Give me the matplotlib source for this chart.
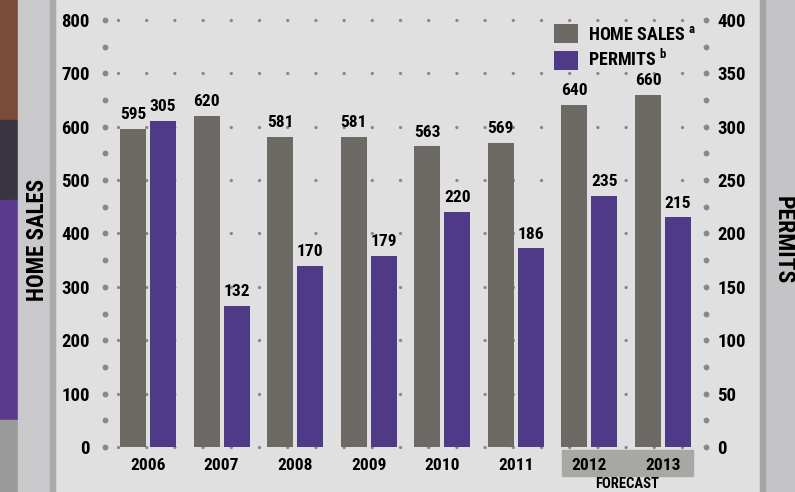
import matplotlib
matplotlib.use("Agg")
import matplotlib.pyplot as plt
from matplotlib.patches import Rectangle
from matplotlib import font_manager
import numpy as np

years = ["2006", "2007", "2008", "2009", "2010", "2011", "2012", "2013"]
home_sales = [595, 620, 581, 581, 563, 569, 640, 660]
permits = [305, 132, 170, 179, 220, 186, 235, 215]
left_ticks = [0, 100, 200, 300, 400, 500, 600, 700, 800]
right_ticks = [0, 50, 100, 150, 200, 250, 300, 350, 400]

GRAY = "#6d6a65"
PURPLE = "#4e3a86"
BG = "#e0e0e1"
DOT = "#88888a"

names = {f.name for f in font_manager.fontManager.ttflist}
FAM = "DejaVu Sans"
for cand in ["Roboto Condensed", "Open Sans Condensed", "Liberation Sans Narrow", "Roboto"]:
    if cand in names:
        FAM = cand
        break
FONT = dict(family=FAM, weight="bold")

W, H = 795, 492
fig = plt.figure(figsize=(W / 100, H / 100), dpi=100)
fig.patch.set_facecolor(BG)

def fr(x0, y0, x1, y1, color, z=-1):
    fig.patches.append(Rectangle((x0 / W, 1 - y1 / H), (x1 - x0) / W, (y1 - y0) / H,
                                 transform=fig.transFigure, color=color, zorder=z))

# decorative edge strips
fr(0, 0, 18, 120, "#7a4a3a")
fr(0, 120, 18, 200, "#3a3440")
fr(0, 200, 18, 420, "#5b3a8c")
fr(0, 420, 18, 492, "#9a9a9a")
fr(18, 0, 55, 492, "#c9c9cb")
fr(50, 0, 55, 492, "#a9a9ab")
fr(760, 0, 795, 492, "#c4c4c6")
fr(760, 0, 765, 492, "#a4a4a6")
# forecast band
fr(562, 450, 693, 476, "#a9a7a4")

ax_left, ax_right = 105, 706
ax_top, ax_bot = 20, 447
ax = fig.add_axes([ax_left / W, 1 - ax_bot / H, (ax_right - ax_left) / W, (ax_bot - ax_top) / H])
ax.set_facecolor("none")
ax2 = ax.twinx()
ax2.set_facecolor("none")

xmin, xmax = -0.584, 7.584
ax.set_xlim(xmin, xmax)
ax.set_ylim(0, 800)
ax2.set_ylim(0, 400)

x = np.arange(len(years))
bw = 0.353
off = 0.204

# dotted gridlines
px_per_x = (ax_right - ax_left) / (xmax - xmin)
g0 = xmin + (118 - ax_left) / px_per_x
g1 = xmin + (700 - ax_left) / px_per_x
for v in left_ticks:
    ax.plot([g0, g1], [v, v], color=DOT, lw=2.4, dashes=(0.01, 8.45),
            dash_capstyle="round", zorder=1, clip_on=False, scalex=False, scaley=False)
for v in range(0, 801, 50):
    ax.plot([xmin], [v], "o", color=DOT, ms=4.2, mew=0, clip_on=False, zorder=1)
    ax.plot([xmax], [v], "o", color=DOT, ms=4.2, mew=0, clip_on=False, zorder=1)

b1 = ax.bar(x - off, home_sales, bw, color=GRAY, zorder=3)
b2 = ax2.bar(x + off, permits, bw, color=PURPLE, zorder=3)

for xi, v in zip(x, home_sales):
    ax.text(xi - off, v + 13, str(v), ha="center", va="bottom", fontsize=12.5, **FONT)
for xi, v in zip(x, permits):
    ax2.text(xi + off, v + 6.5, str(v), ha="center", va="bottom", fontsize=12.5, **FONT)

for a in (ax, ax2):
    for s in a.spines.values():
        s.set_visible(False)

ax.set_xticks(x)
ax.set_xticklabels(years)
ax.set_yticks(left_ticks)
ax2.set_yticks(right_ticks)
ax.tick_params(axis="both", length=0)
ax2.tick_params(axis="both", length=0)
ax.tick_params(axis="x", pad=8)
ax.tick_params(axis="y", pad=11)
ax2.tick_params(axis="y", pad=8)
for lab in ax.get_xticklabels() + ax.get_yticklabels() + ax2.get_yticklabels():
    lab.set_fontfamily(FAM)
    lab.set_fontweight("bold")
    lab.set_fontsize(13.5)
for lab in ax.get_xticklabels():
    lab.set_fontsize(12.5)

fig.text(627 / W, 1 - 484 / H, "FORECAST", ha="center", va="center", fontsize=10.5, **FONT)
fig.text(37 / W, 1 - 240 / H, "HOME SALES", rotation=90, ha="center", va="center",
         fontsize=16.5, **FONT)
fig.text(783 / W, 1 - 240 / H, "PERMITS", rotation=-90, ha="center", va="center",
         fontsize=17, **FONT)

leg = ax.legend([b1, b2], ["HOME SALES $^{\\mathregular{a}}$", "PERMITS $^{\\mathregular{b}}$"],
                loc="upper left",
                bbox_to_anchor=((554 - ax_left) / (ax_right - ax_left), 1 - (24 - ax_top) / (ax_bot - ax_top)),
                frameon=False, handlelength=1.35, handleheight=1.25, handletextpad=0.55,
                labelspacing=0.3, borderaxespad=0, borderpad=0,
                prop=dict(family=FAM, weight="bold", size=13))
leg.set_zorder(5)

fig.savefig("out.png", dpi=100, facecolor=BG)
